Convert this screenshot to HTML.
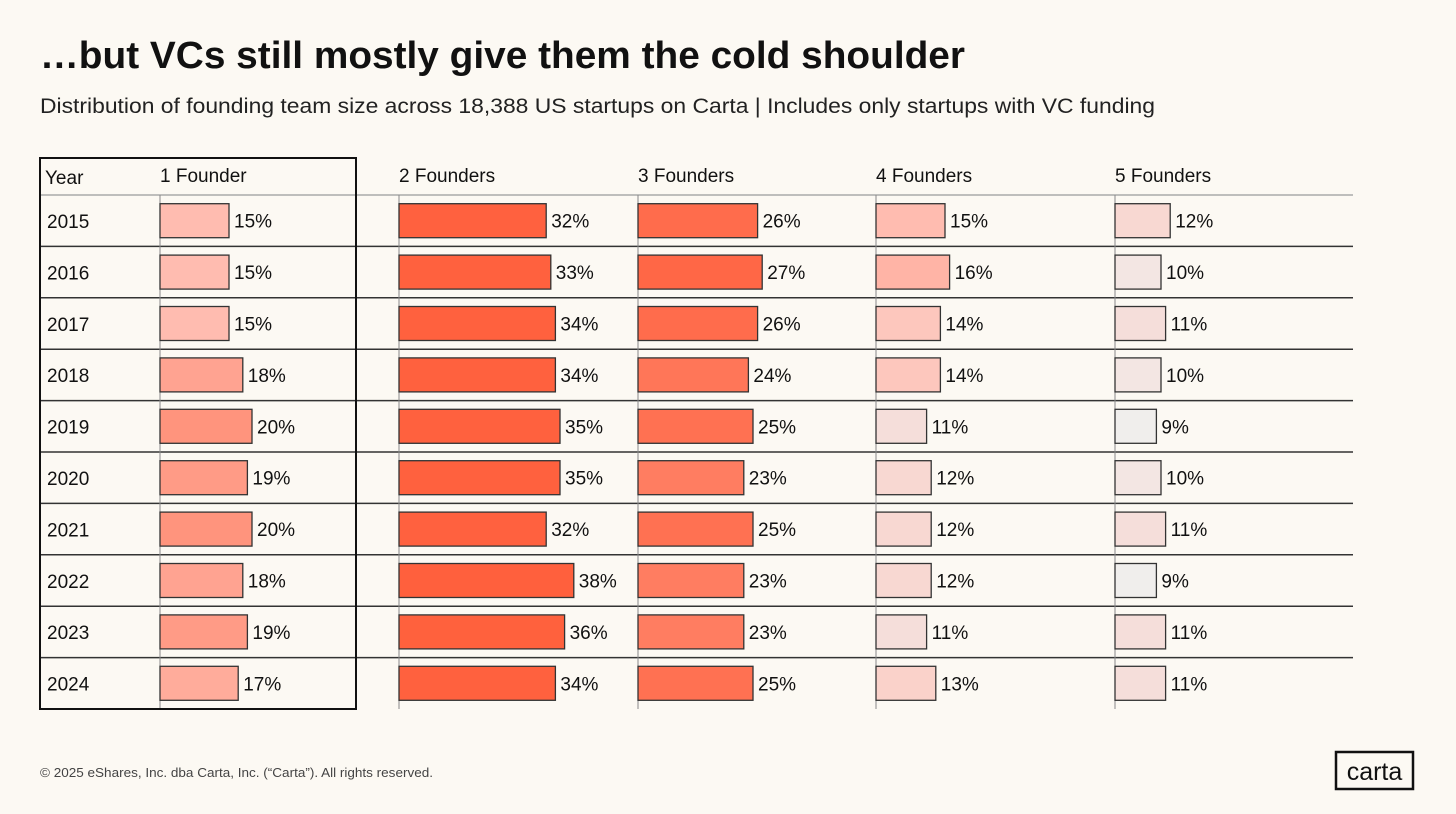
<!DOCTYPE html>
<html><head><meta charset="utf-8"><style>
body{margin:0;background:#fcf9f3;font-family:"Liberation Sans",sans-serif;}
#wrap{position:relative;width:1456px;height:814px;overflow:hidden;background:#fcf9f3}
</style></head><body>
<div id="wrap">
<svg id="chart" width="1456" height="814">
<text x="40" y="68" font-size="38" font-weight="bold" textLength="925" lengthAdjust="spacingAndGlyphs" fill="#111">…but VCs still mostly give them the cold shoulder</text>
<text x="40" y="113" font-size="21" textLength="1115" lengthAdjust="spacingAndGlyphs" fill="#222">Distribution of founding team size across 18,388 US startups on Carta | Includes only startups with VC funding</text>
<text x="40" y="777" font-size="13" textLength="393" lengthAdjust="spacingAndGlyphs" fill="#444">© 2025 eShares, Inc. dba Carta, Inc. (“Carta”). All rights reserved.</text>
<rect x="1336" y="752" width="77" height="37" fill="none" stroke="#111" stroke-width="2.5"/>
<text x="1374.5" y="780" font-size="25" text-anchor="middle" fill="#111">carta</text>
</svg>
</div>
<script>
const years=["2015","2016","2017","2018","2019","2020","2021","2022","2023","2024"];
const seriesNames=["1 Founder","2 Founders","3 Founders","4 Founders","5 Founders"];
const founders1=[15,15,15,18,20,19,20,18,19,17];
const founders2=[32,33,34,34,35,35,32,38,36,34];
const founders3=[26,27,26,24,25,23,25,23,23,25];
const founders4=[15,16,14,14,11,12,12,12,11,13];
const founders5=[12,10,11,10,9,10,11,9,11,11];
const series=[founders1,founders2,founders3,founders4,founders5];
const NS="http://www.w3.org/2000/svg";
const svg=document.getElementById('chart');
const colX=[160,399,638,876,1115];
const top0=195,rowH=51.4,pxPer=4.6,barH=34;
function xScale(v){return v*pxPer;}
function yRow(i){return top0+i*rowH;}
function color(v){
  const stops=[[9,[240,238,236]],[11,[245,222,218]],[13,[250,210,202]],[15,[255,188,176]],[19,[255,155,134]],[24,[255,118,88]],[28,[255,98,64]],[40,[255,96,60]]];
  if(v<=stops[0][0])return 'rgb('+stops[0][1]+')';
  for(let k=1;k<stops.length;k++){if(v<=stops[k][0]){const a=stops[k-1],b=stops[k],t=(v-a[0])/(b[0]-a[0]);return 'rgb('+a[1].map((c,j)=>Math.round(c+(b[1][j]-c)*t)).join(',')+')';}}
  return 'rgb(255,96,60)';
}
function el(tag,attrs){const e=document.createElementNS(NS,tag);for(const k in attrs)e.setAttribute(k,attrs[k]);svg.appendChild(e);return e;}
let hl=el('line',{x1:40,x2:1353,y1:top0,y2:top0,stroke:'#aaa','stroke-width':1.5});


for(let i=1;i<years.length;i++){
  const l=el('line',{x1:40,x2:1353,y1:yRow(i),y2:yRow(i),stroke:'#333','stroke-width':1.5});
  
  
}
const bottom=yRow(years.length);
colX.forEach((x,c)=>{
  const l=el('line',{x1:x,x2:x,y1:top0,y2:bottom,stroke:'#888','stroke-width':1});
  
  
});
let yh=el('text',{x:45,y:184,'font-size':19,fill:'#111'});yh.textContent='Year';


seriesNames.forEach((n,c)=>{
  const t=el('text',{x:colX[c],y:182,'font-size':19,fill:'#111'});t.textContent=n;
  
  
});
years.forEach((y,i)=>{
  const t=el('text',{x:47,y:yRow(i)+33,'font-size':19,fill:'#111'});t.textContent=y;
  
  
  series.forEach((s,c)=>{
    const v=s[i],w=xScale(v),by=yRow(i)+(rowH-barH)/2;
    const r=el('rect',{x:colX[c],y:by,width:w,height:barH,fill:color(v),stroke:'#333','stroke-width':1.3});
    
    
    const lt=el('text',{x:colX[c]+w+5,y:by+24,'font-size':19,fill:'#111'});lt.textContent=v+'%';
    
    
  });
});
const box=el('rect',{x:40,y:158,width:316,height:bottom-158,fill:'none',stroke:'#111','stroke-width':2});


</script>
</body></html>
